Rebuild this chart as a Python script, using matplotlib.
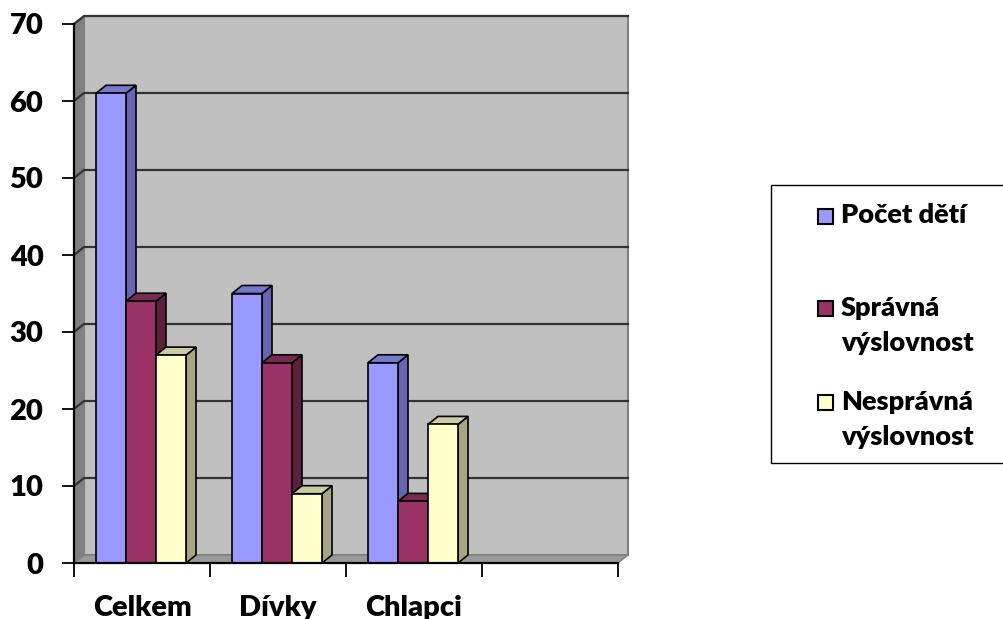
import matplotlib
matplotlib.use("Agg")
import matplotlib.pyplot as plt
from matplotlib.patches import Polygon, Rectangle

plt.rcParams['font.family'] = ['Lato', 'DejaVu Sans']
plt.rcParams['font.weight'] = 'heavy'

categories = ['Celkem', 'Dívky', 'Chlapci']
series = ['Počet dětí', 'Správná\nvýslovnost', 'Nesprávná\nvýslovnost']
pocet_deti = [61, 35, 26]
spravna = [34, 26, 8]
nespravna = [27, 9, 18]
values = [pocet_deti, spravna, nespravna]

# front, side, top face colours per series
front_cols = ['#9999ff', '#993366', '#ffffcc']
side_cols = ['#6666b0', '#5c1f3d', '#a6a685']
top_cols = ['#7878cc', '#7a2952', '#cccca3']

W, H = 1004, 619
fig = plt.figure(figsize=(W / 100, H / 100), dpi=100)
# front plane of the plot area in pixels
x0p, x1p, y0p, y1p = 74, 618, 563, 24
ax = fig.add_axes([x0p / W, 1 - y0p / H, (x1p - x0p) / W, (y0p - y1p) / H])
nslots = 4
ymax = 70
ax.set_xlim(0, nslots)
ax.set_ylim(0, ymax)

# depth offset of the 3d box, in data units
dx = 10 * nslots / (x1p - x0p)
dy = 8 * ymax / (y0p - y1p)

# walls and floor
ax.add_patch(Polygon([(dx, dy), (nslots + dx, dy), (nslots + dx, ymax + dy), (dx, ymax + dy)],
                     closed=True, facecolor='#c0c0c0', edgecolor='#808080', lw=1.5,
                     clip_on=False, zorder=0))
ax.add_patch(Polygon([(0, 0), (dx, dy), (dx, ymax + dy), (0, ymax)],
                     closed=True, facecolor='#808080', edgecolor='#808080', lw=1,
                     clip_on=False, zorder=0.5))
ax.add_patch(Polygon([(0, 0), (nslots, 0), (nslots + dx, dy), (dx, dy)],
                     closed=True, facecolor='#9a9a9a', edgecolor='#808080', lw=1,
                     clip_on=False, zorder=0.5))
for v in range(10, ymax + 1, 10):
    ax.plot([0, dx, nslots + dx], [v, v + dy, v + dy], color='#333333', lw=1.6,
            clip_on=False, zorder=1)

# bars with a top and side face
bw = 30 / 136
start = 22 / 136
for k in range(len(categories)):
    for s in range(len(series)):
        v = values[s][k]
        xl = k + start + s * bw
        xr = xl + bw
        ax.add_patch(Polygon([(xr, 0), (xr + dx, dy), (xr + dx, v + dy), (xr, v)],
                             closed=True, facecolor=side_cols[s], edgecolor='black',
                             lw=1.2, zorder=2 + s, clip_on=False))
        ax.add_patch(Polygon([(xl, v), (xr, v), (xr + dx, v + dy), (xl + dx, v + dy)],
                             closed=True, facecolor=top_cols[s], edgecolor='black',
                             lw=1.2, zorder=2 + s, clip_on=False))
        ax.add_patch(Rectangle((xl, 0), bw, v, facecolor=front_cols[s], edgecolor='black',
                               lw=1.2, zorder=2 + s, clip_on=False))

for sp in ['top', 'right']:
    ax.spines[sp].set_visible(False)
for sp in ['left', 'bottom']:
    ax.spines[sp].set_linewidth(1.6)
    ax.spines[sp].set_zorder(6)
ax.set_facecolor('none')

ax.set_yticks(range(0, ymax + 1, 10))
ax.tick_params(axis='y', length=9, width=1.3, pad=13, labelsize=21)
ax.set_xticks(range(nslots + 1))
ax.set_xticklabels([])
ax.tick_params(axis='x', which='major', length=10, width=1.3)
ax.set_xticks([k + 0.5 for k in range(len(categories))], minor=True)
ax.set_xticklabels(categories, minor=True, fontsize=21)
ax.tick_params(axis='x', which='minor', length=0, pad=23)

# legend box on the right
fig.patches.append(Rectangle((771 / W, 1 - 463 / H), 260 / W, 278 / H, transform=fig.transFigure,
                             facecolor='white', edgecolor='black', lw=1))
leg_base = [223, 316, 410]
leg_sq = [216, 308, 402]
for s in range(len(series)):
    fig.patches.append(Rectangle((818 / W, 1 - (leg_sq[s] + 7.5) / H), 15 / W, 15 / H,
                                 transform=fig.transFigure, facecolor=front_cols[s],
                                 edgecolor='black', lw=1.5))
    fig.text(841 / W, 1 - (leg_base[s] - 20) / H, series[s], fontsize=19.5, va='top',
             ha='left', linespacing=1.57)

fig.savefig('out.png', dpi=100)
